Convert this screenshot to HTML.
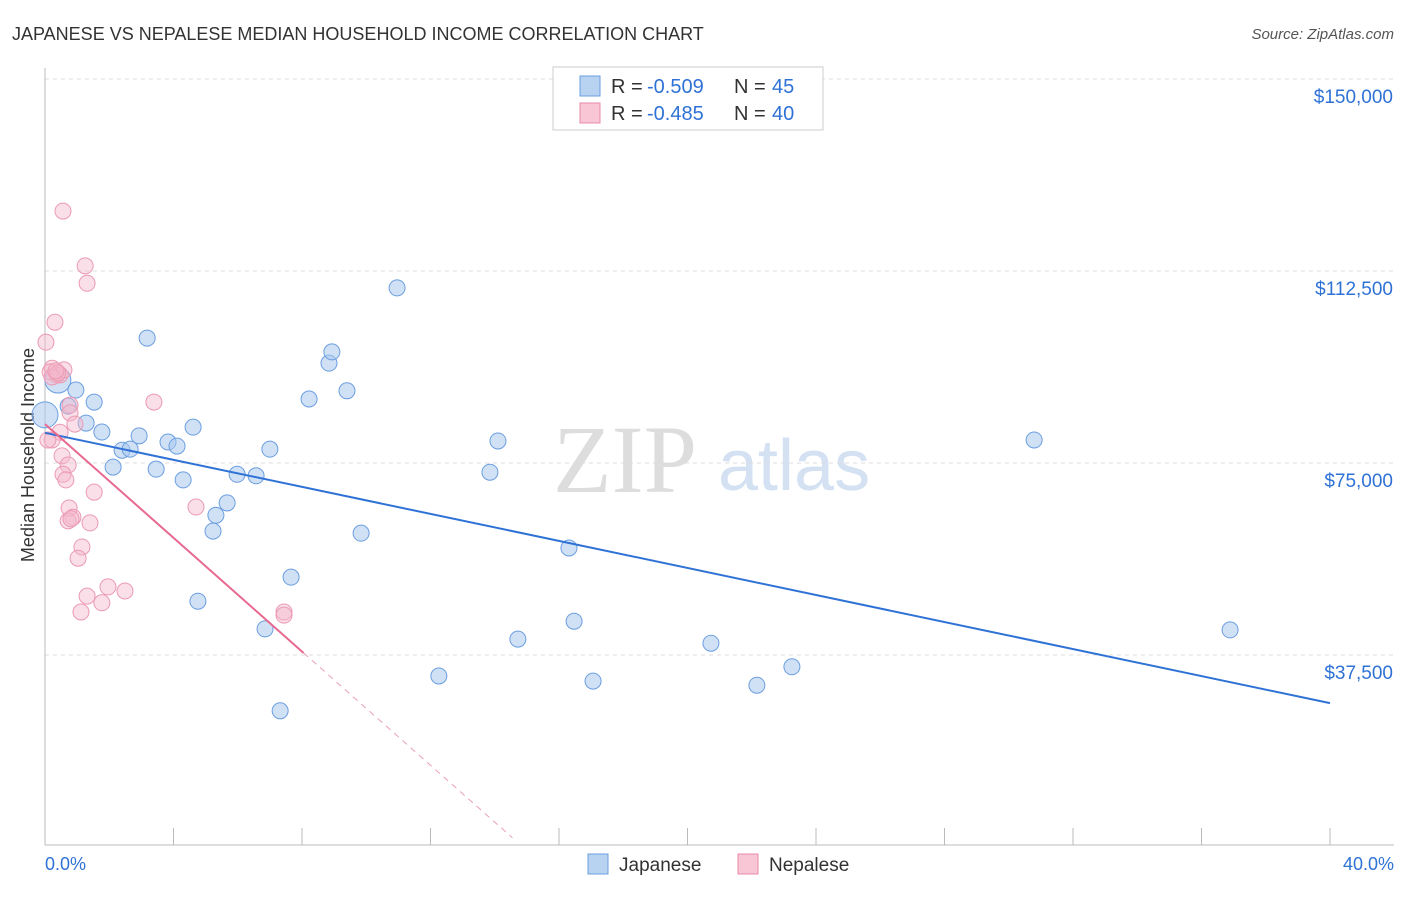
<!DOCTYPE html>
<html><head><meta charset="utf-8"><style>
body{margin:0;background:#fff;font-family:"Liberation Sans",sans-serif}
svg text{font-family:"Liberation Sans",sans-serif}
</style></head><body>
<svg id="c" width="1406" height="892">
<text x="12" y="40" font-size="18" fill="#333">JAPANESE VS NEPALESE MEDIAN HOUSEHOLD INCOME CORRELATION CHART</text>
<text x="1394" y="39" font-size="15" fill="#555" font-style="italic" text-anchor="end">Source: ZipAtlas.com</text>
<text x="553" y="492" font-size="96" fill="#ddd" style="font-family:'Liberation Serif',serif">ZIP</text>
<text x="718" y="490" font-size="72" fill="#d3e1f3">atlas</text>
<text transform="translate(34,455) rotate(-90)" font-size="18" fill="#333" text-anchor="middle">Median Household Income</text>
<g id="grid"></g><g id="pts"></g><g id="lines"></g>
<g>
<rect x="553" y="67" width="270" height="63" fill="#fff" stroke="#ccc"/>
<rect x="580" y="76" width="20" height="20" fill="#b8d2f2" stroke="#6b9ee0"/>
<rect x="580" y="103" width="20" height="20" fill="#f8c6d5" stroke="#e88aa8"/>
<text x="611" y="93" font-size="20" fill="#333">R =</text>
<text x="647" y="93" font-size="20" fill="#2f72d6">-0.509</text>
<text x="734" y="93" font-size="20" fill="#333">N =</text>
<text x="772" y="93" font-size="20" fill="#2f72d6">45</text>
<text x="611" y="120" font-size="20" fill="#333">R =</text>
<text x="647" y="120" font-size="20" fill="#2f72d6">-0.485</text>
<text x="734" y="120" font-size="20" fill="#333">N =</text>
<text x="772" y="120" font-size="20" fill="#2f72d6">40</text>
</g>
<g>
<rect x="588" y="854" width="20" height="20" fill="#b8d2f2" stroke="#6b9ee0"/>
<text x="619" y="871" font-size="19" fill="#333">Japanese</text>
<rect x="738" y="854" width="20" height="20" fill="#f8c6d5" stroke="#e88aa8"/>
<text x="769" y="871" font-size="19" fill="#333">Nepalese</text>
</g>
<text x="45" y="870" font-size="18" fill="#2f72d6">0.0%</text>
<text x="1394" y="870" font-size="18" fill="#2f72d6" text-anchor="end">40.0%</text>
</svg>
<script>
const yTicks=[37500,75000,112500,150000];
const yTickLabels=["$37,500","$75,000","$112,500","$150,000"];
const jpX=[0,0.4,0.96,0.72,1.53,1.28,1.77,2.4,2.65,2.12,2.93,3.18,3.83,4.11,3.46,4.3,4.61,4.76,5.23,5.32,5.67,5.98,6.57,6.85,7.0,7.32,7.66,8.22,8.84,8.93,9.4,9.84,10.96,12.26,13.85,14.1,14.72,16.31,16.47,17.06,20.73,22.16,23.25,30.79,36.89];
const jpY=[84400,91200,89250,86100,86900,82800,81050,77500,77700,74200,80300,99400,79100,78300,73800,71700,82000,48000,61700,64800,67200,72800,72500,42600,77700,26600,52700,87500,94500,96700,89100,61300,109200,33400,73200,79300,40600,58400,44100,32400,39800,31600,35200,79500,42400];
const npX=[0.56,1.25,1.31,0.31,0.03,0.22,0.37,0.16,0.47,0.78,0.78,3.39,0.93,0.47,0.22,0.53,0.72,0.56,0.65,1.53,0.75,4.7,0.87,0.72,1.4,0.81,1.15,1.03,1.96,2.49,1.31,1.77,1.12,7.44,7.44,0.59,0.09,0.22,0.4,0.34];
const npY=[124200,113500,110100,102500,98600,93500,92200,92800,92200,86300,84800,86900,82600,81000,79500,76400,74600,72800,71700,69300,66200,66400,64400,63700,63300,64100,58600,56400,50800,50000,49000,47700,45900,45900,45300,93200,79500,91800,92600,93000];
const jpTrendX=[0,40];const jpTrendY=[80900,28100];
const npTrendX=[0,8.05];const npTrendY=[82600,37900];
const npDashX=[8.05,14.55];const npDashY=[37900,1800];
const NS="http://www.w3.org/2000/svg";
const xs=v=>45+v/40*1285, ys=v=>847-v/37500*192;
function mk(t,a,p){const e=document.createElementNS(NS,t);for(const k in a)e.setAttribute(k,a[k]);p.appendChild(e);return e;}
const grid=document.getElementById('grid');
yTicks.forEach((t,i)=>{
 const l=mk('line',{x1:45,x2:1394,y1:ys(t),y2:ys(t),stroke:'#ddd','stroke-dasharray':'4,4'},grid);
 
 
 const tx=mk('text',{x:1393,y:ys(t)+24,'font-size':19,fill:'#2f72d6','text-anchor':'end'},grid);
 tx.textContent=yTickLabels[i];
 
 
});
mk('line',{x1:45,x2:45,y1:68,y2:845,stroke:'#bbb'},grid);
mk('line',{x1:45,x2:1394,y1:845,y2:845,stroke:'#bbb'},grid);
for(let i=1;i<=10;i++){const t=mk('line',{x1:xs(i*4),x2:xs(i*4),y1:828,y2:845,stroke:'#bbb'},grid);
 
 }
const pts=document.getElementById('pts');
jpX.forEach((x,i)=>{const c=mk('circle',{cx:xs(x),cy:ys(jpY[i]),r:i<2?13:8,fill:'rgba(169,200,238,0.55)',stroke:'#6b9ee0','stroke-width':1},pts);
 
 });
npX.forEach((x,i)=>{const c=mk('circle',{cx:xs(x),cy:ys(npY[i]),r:8,fill:'rgba(245,184,203,0.45)',stroke:'#eb9ab3','stroke-width':1},pts);
 
 });
const lines=document.getElementById('lines');
const l1=mk('line',{x1:xs(jpTrendX[0]),y1:ys(jpTrendY[0]),x2:xs(jpTrendX[1]),y2:ys(jpTrendY[1]),stroke:'#2f72d6','stroke-width':2},lines);


const l2=mk('line',{x1:xs(npTrendX[0]),y1:ys(npTrendY[0]),x2:xs(npTrendX[1]),y2:ys(npTrendY[1]),stroke:'#e8688f','stroke-width':2},lines);


const l3=mk('line',{x1:xs(npDashX[0]),y1:ys(npDashY[0]),x2:xs(npDashX[1]),y2:ys(npDashY[1]),stroke:'#e8a0b5','stroke-width':1,'stroke-dasharray':'6,5'},lines);


</script>
</body></html>
